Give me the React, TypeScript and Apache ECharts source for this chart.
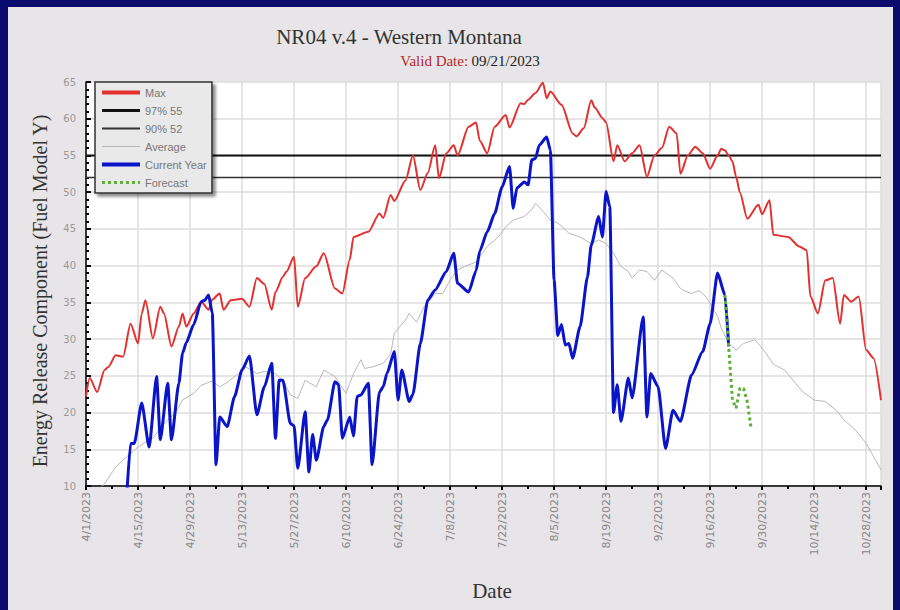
import React, { useEffect, useRef } from "react";
import * as echarts from "echarts";

// Day index 0 = 4/1/2023
const START_UTC = Date.UTC(2023, 3, 1);
const DAY_MS = 86400000;
const X_MAX_DAY = 214;
const X_INTERVAL = 14;
const Y_MIN = 10;
const Y_MAX = 65;
const Y_INTERVAL = 5;

const TITLE = "NR04 v.4 - Western Montana";
const VALID_LABEL = "Valid Date:";
const VALID_DATE = "09/21/2023";
const Y_TITLE = "Energy Release Component (Fuel Model Y)";
const X_TITLE = "Date";

const PCT97 = 55;
const PCT90 = 52;

const maxERC: [number, number][] = [
  [0, 22.2], [1, 24.7], [3, 22.8], [5, 25.8], [6, 26.2], [8, 27.8], [10, 27.6], [12, 32.1], [14, 29.4],
  [15, 33.5], [16, 35.3], [18, 30.1], [20, 34.4], [21, 33.5], [23, 29], [25, 31.7], [26, 33.5], [27, 31.7],
  [29, 33.5], [31, 35.1], [33, 34], [34, 35.4], [36, 36.2], [37, 34], [39, 35.3], [42, 35.5], [44, 34.4],
  [46, 38.3], [48, 37.5], [50, 34], [51, 36.4], [53, 38.5], [54, 39.2], [56, 41.2], [57, 34.4], [59, 38.3],
  [62, 39.9], [64, 41.7], [67, 36.9], [69, 36.2], [71, 40.8], [72, 43.9], [76, 44.6], [79, 47.1], [80, 46.5],
  [82, 49.6], [83, 48.8], [86, 51.6], [88, 55], [90, 50.3], [92, 52.6], [94, 56.4], [95, 51.9], [97, 55.3],
  [99, 56.4], [100, 55], [103, 58.9], [105, 59.5], [106, 57], [108, 55.3], [110, 58.9], [113, 60.5],
  [114, 58.8], [117, 62.1], [118, 62], [119, 62.6], [121, 63.5], [123, 64.9], [124, 62.8], [125, 63.7],
  [128, 61.9], [131, 58], [132, 57.6], [134, 58.7], [136, 62.5], [137, 61.5], [139, 60.1], [140, 59.5],
  [142, 54.2], [143, 56.4], [145, 54.2], [147, 55.3], [149, 56.4], [151, 52.1], [153, 55], [155, 56],
  [157, 58.9], [159, 58], [160, 52.5], [162, 55], [164, 56.2], [166, 55.3], [168, 53.2], [170, 55],
  [171, 55.9], [172, 55.7], [173, 55], [174, 54.2], [175, 52.1], [176, 50], [178, 46.4], [181, 48.3],
  [182, 47], [184, 48.9], [185, 44.2], [189, 43.9], [192, 42.6], [194, 42.1], [195, 35.8], [197, 33.5],
  [199, 38], [201, 38.3], [203, 32.1], [204, 36], [206, 35.1], [208, 35.8], [210, 28.5], [212, 27.4],
  [214, 21.7],
];

const averageERC: [number, number][] = [
  [0, 8], [3, 9.3], [5, 10.3], [8, 12.6], [11, 14], [14, 15.3], [16, 16], [18, 16.5], [21, 18.5], [24, 19.9],
  [26, 21.7], [29, 22.6], [31, 23.7], [34, 24.3], [36, 23.5], [38, 24.1], [41, 25.3], [43, 26.2], [46, 25.3],
  [48, 25.6], [51, 25.3], [53, 24.4], [55, 22.4], [57, 21.9], [59, 24.4], [62, 23.5], [64, 25.8], [67, 24.9],
  [70, 22.6], [72, 25.3], [74, 27.2], [75, 26], [77, 26.2], [80, 26.7], [82, 28], [83, 30.8], [86, 32.6],
  [87, 33.5], [89, 32.3], [91, 34.4], [94, 36.2], [96, 36.2], [98, 38], [100, 39.4], [102, 39.9], [105, 40.5],
  [107, 41.9], [108, 42.6], [111, 43.9], [113, 45.3], [115, 46.2], [118, 46.7], [120, 47.6], [121, 48.5],
  [123, 47.4], [125, 46.2], [127, 45.8], [128, 45.4], [130, 44.4], [133, 43.9], [136, 43], [138, 43.5],
  [140, 43], [142, 41.7], [144, 39.9], [146, 39.2], [147, 38.3], [149, 39.4], [151, 39.2], [153, 38],
  [155, 39.4], [158, 38.3], [160, 36.9], [161, 36.6], [163, 36.2], [165, 36.6], [167, 35.7], [168, 34.9],
  [170, 33.1], [171, 31.5], [173, 29.4], [175, 28.5], [177, 29.4], [180, 29.9], [181, 29.4], [183, 28.1],
  [185, 26.6], [188, 25.8], [191, 24], [193, 22.8], [196, 21.7], [199, 21.5], [202, 20.3], [204, 19],
  [207, 17.7], [210, 15.8], [212, 14], [214, 12.2],
];

const currentYear: [number, number][] = [
  [11, 9], [12, 15.8], [13, 15.8], [15, 21.3], [17, 15.3], [19, 24.9], [20, 16.3], [22, 24], [23, 16.3],
  [25, 24], [26, 28.1], [27, 29.5], [29, 32], [31, 35.1], [32, 35.3], [33, 36], [34, 33.5], [35, 12.9],
  [36, 19.4], [38, 18.1], [40, 22.2], [42, 25.8], [44, 27.7], [46, 19.7], [48, 23.5], [50, 26.7], [51, 16.5],
  [52, 24.4], [53, 24.4], [55, 18.5], [56, 18.2], [57, 12.4], [59, 20.1], [60, 11.9], [61, 17], [62, 13.5],
  [64, 18.1], [65, 19], [67, 24.2], [68, 23.8], [69, 16.5], [71, 19.4], [72, 16.8], [73, 22.2], [74, 22.4],
  [76, 24], [77, 12.9], [79, 22.8], [80, 23.5], [81, 25.3], [83, 28.3], [84, 21.7], [85, 25.8], [87, 21.5],
  [88, 22.5], [90, 29.4], [92, 35.3], [94, 36.7], [97, 39.2], [99, 41.7], [100, 37.6], [103, 36.4],
  [105, 39.3], [106, 42], [108, 44.6], [110, 47.1], [112, 50.7], [114, 53.5], [115, 47.8], [116, 50.6],
  [118, 51.4], [119, 51], [120, 54.4], [121, 54.6], [122, 56.4], [124, 57.5], [125, 55.7], [126, 38],
  [127, 30.5], [128, 32], [129, 29.2], [130, 29.4], [131, 27.4], [133, 31.7], [135, 38.5], [136, 42.8],
  [138, 46.7], [139, 43.9], [140, 50.1], [141, 48], [142, 20], [143, 23.8], [144, 18.8], [146, 24.7],
  [147, 22], [150, 33], [151, 19.4], [152, 25.3], [154, 23.5], [156, 15.1], [158, 20.3], [160, 18.8],
  [163, 25.1], [166, 28.3], [168, 32.1], [170, 39], [172, 36], [173, 29],
];

const forecast: [number, number][] = [
  [172, 36], [173, 29], [174, 21.7], [175, 20.6], [176, 23.3], [177, 23.3], [178, 21.5], [179, 18],
];

const SERIES_NAMES = ["Max", "97% 55", "90% 52", "Average", "Current Year", "Forecast"];

function dayLabel(v: number): string {
  const d = new Date(START_UTC + Math.round(v) * DAY_MS);
  return `${d.getUTCMonth() + 1}/${d.getUTCDate()}/${d.getUTCFullYear()}`;
}

export default function App() {
  const ref = useRef<HTMLDivElement>(null);

  useEffect(() => {
    document.body.style.margin = "0";
    if (!ref.current) return;
    const chart = echarts.init(ref.current, undefined, { renderer: "svg" });
    const serif = "'Liberation Serif', 'DejaVu Serif', serif";
    const navy = "#0b0b6e";

    const red = "#e53030";
    const blue = "#0a14c8";
    const green = "#5fae3c";

    const legendWidths = [4, 3, 2, 1, 4, 3];

    const option: any = {
      animation: false,
      backgroundColor: "#e7e5e8",
      grid: {
        left: 86,
        right: 19,
        top: 82,
        bottom: 124,
        show: true,
        backgroundColor: "#ffffff",
        borderWidth: 0,
      },
      legend: {
        data: SERIES_NAMES.map((name, i) => ({ name, lineStyle: { width: legendWidths[i] } })),
        orient: "vertical",
        left: 95,
        top: 82,
        padding: [5, 5, 5, 5],
        itemWidth: 38,
        itemHeight: 12,
        itemGap: 7,
        itemStyle: { opacity: 0 },
        backgroundColor: "#e9e9e9",
        borderColor: "#333",
        borderWidth: 1.5,
        borderRadius: 0,
        shadowBlur: 3,
        shadowOffsetX: 3,
        shadowOffsetY: 3,
        shadowColor: "rgba(0,0,0,0.45)",
        textStyle: { fontSize: 11, color: "#777", fontFamily: "'Liberation Sans', Arial, sans-serif" },
        selectedMode: false,
      },
      xAxis: {
        type: "value",
        min: 0,
        max: X_MAX_DAY,
        interval: X_INTERVAL,
        axisLine: { show: true, lineStyle: { color: "#000", width: 1.5 } },
        axisTick: { show: true, length: 4, lineStyle: { color: "#000", width: 2 } },
        minorTick: { show: true, splitNumber: 2, length: 3, lineStyle: { color: "#000", width: 2 } },
        splitLine: { show: true, lineStyle: { color: "#dcdcdc", width: 1.5 } },
        axisLabel: {
          rotate: 90,
          formatter: dayLabel,
          fontSize: 11,
          color: "#888",
          fontFamily: "'DejaVu Sans', sans-serif",
          margin: 6,
          showMaxLabel: false,
        },
      },
      yAxis: {
        type: "value",
        min: Y_MIN,
        max: Y_MAX,
        interval: Y_INTERVAL,
        axisLine: { show: true, lineStyle: { color: "#000", width: 1.5 } },
        axisTick: { show: true, inside: true, length: 5, lineStyle: { color: "#000", width: 2 } },
        minorTick: { show: true, splitNumber: 5, length: 3, lineStyle: { color: "#000", width: 2 } },
        splitLine: { show: true, lineStyle: { color: "#dcdcdc", width: 1.5 } },
        axisLabel: { fontSize: 10, color: "#999", fontFamily: "'DejaVu Sans', sans-serif", margin: 10 },
      },
      series: [
        {
          name: "Max",
          type: "line",
          data: maxERC,
          symbol: "none",
          smooth: 0.25,
          smoothMonotone: "x",
          lineStyle: { color: red, width: 2 },
          itemStyle: { color: red },
          z: 3,
        },
        {
          name: "97% 55",
          type: "line",
          data: [[0, PCT97], [X_MAX_DAY, PCT97]],
          symbol: "none",
          lineStyle: { color: "#111", width: 2 },
          itemStyle: { color: "#111" },
          z: 2,
        },
        {
          name: "90% 52",
          type: "line",
          data: [[0, PCT90], [X_MAX_DAY, PCT90]],
          symbol: "none",
          lineStyle: { color: "#333", width: 1.5 },
          itemStyle: { color: "#555" },
          z: 2,
        },
        {
          name: "Average",
          type: "line",
          data: averageERC,
          symbol: "none",
          lineStyle: { color: "#b8b8b8", width: 1 },
          itemStyle: { color: "#c8c8c8" },
          z: 2,
        },
        {
          name: "Current Year",
          type: "line",
          data: currentYear,
          symbol: "none",
          smooth: 0.2,
          smoothMonotone: "x",
          lineStyle: { color: blue, width: 3 },
          itemStyle: { color: blue },
          z: 4,
        },
        {
          name: "Forecast",
          type: "line",
          data: forecast,
          symbol: "none",
          lineStyle: { color: green, width: 3, type: [3, 3] },
          itemStyle: { color: green },
          z: 5,
        },
      ],
      graphic: [
        { type: "rect", shape: { x: 0, y: 0, width: 900, height: 7 }, style: { fill: navy }, z: 100 },
        { type: "rect", shape: { x: 0, y: 0, width: 8, height: 610 }, style: { fill: navy }, z: 100 },
        { type: "rect", shape: { x: 893, y: 0, width: 7, height: 610 }, style: { fill: navy }, z: 100 },
        {
          type: "text",
          x: 399,
          y: 37,
          style: { text: TITLE, font: `21px ${serif}`, fill: "#333", align: "center", verticalAlign: "middle" },
          z: 100,
        },
        {
          type: "text",
          x: 470,
          y: 61,
          style: {
            text: `{a|${VALID_LABEL}} {b|${VALID_DATE}}`,
            align: "center",
            verticalAlign: "middle",
            rich: {
              a: { font: `15px ${serif}`, fill: "#b42828", color: "#b42828" },
              b: { font: `15px ${serif}`, fill: "#222", color: "#222" },
            },
          },
          z: 100,
        },
        {
          type: "text",
          x: 40,
          y: 291,
          rotation: Math.PI / 2,
          style: { text: Y_TITLE, font: `20px ${serif}`, fill: "#333", align: "center", verticalAlign: "middle" },
          z: 100,
        },
        {
          type: "text",
          x: 492,
          y: 591,
          style: { text: X_TITLE, font: `21px ${serif}`, fill: "#333", align: "center", verticalAlign: "middle" },
          z: 100,
        },
      ],
    };

    chart.setOption(option);
    return () => chart.dispose();
  }, []);

  return <div ref={ref} style={{ width: 900, height: 610 }} />;
}
